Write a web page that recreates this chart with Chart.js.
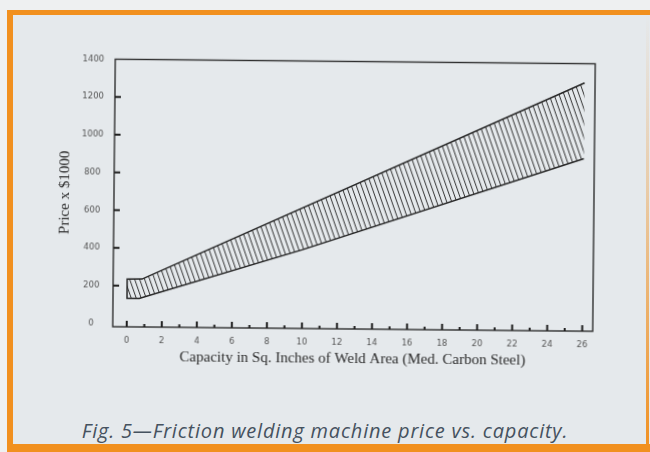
<!DOCTYPE html>
<html>
<head>
<meta charset="utf-8">
<script src="https://cdn.jsdelivr.net/npm/chart.js@4"></script>
<style>
  html,body{margin:0;padding:0;}
  body{width:650px;height:452px;position:relative;overflow:hidden;background:#eef0f1;}
  #page{position:absolute;left:7px;top:10px;right:0;bottom:0;background:#e5e9ec;}
  #ftop{position:absolute;left:7px;top:10px;width:643px;height:5px;background:#f1901f;}
  #fleft{position:absolute;left:7px;top:10px;width:6px;height:442px;background:#f1901f;}
  #fbot{position:absolute;left:7px;top:444px;width:643px;height:8px;background:#f1901f;}
  #fright{position:absolute;left:646px;top:15px;width:3px;height:437px;background:linear-gradient(#f1901f00,#f1901f55 40%,#f1901f);}
  #wrap{position:absolute;left:0;top:0;width:650px;height:380px;transform-origin:354px 195px;transform:rotate(0.55deg);}
  #cap{position:absolute;left:0;width:650px;top:421px;line-height:20px;text-align:center;font-family:"Open Sans",sans-serif;font-style:italic;font-size:20px;letter-spacing:0.8px;color:#45525f;white-space:nowrap;}
</style>
</head>
<body>
<div id="page"></div>
<div id="ftop"></div><div id="fleft"></div><div id="fbot"></div><div id="fright"></div>
<div id="wrap"><canvas id="c" width="650" height="380"></canvas></div>
<div id="cap">Fig. 5—Friction welding machine price vs. capacity.</div>
<script>
// ---- data ----
const lowerCapacity = [0, 0.7, 10, 26];
const lowerPrice    = [133, 133, 400, 896];
const upperCapacity = [0, 0.85, 26];
const upperPrice    = [235, 236, 1298];
const xTickValues = [0,1,2,3,4,5,6,7,8,9,10,11,12,13,14,15,16,17,18,19,20,21,22,23,24,25,26];
const yTickValues = [0,200,400,600,800,1000,1200,1400];
const xTitle = 'Capacity in Sq. Inches of Weld Area (Med. Carbon Steel)';
const yTitle = 'Price x $1000';

// closed band outline: lower edge (right to left), left edge, upper edge (left to right)
const band = [];
for (let i = lowerCapacity.length - 1; i >= 0; i--) band.push({x: lowerCapacity[i], y: lowerPrice[i]});
for (let i = 0; i < upperCapacity.length; i++) band.push({x: upperCapacity[i], y: upperPrice[i]});

function makeHatch(){
  const c = document.createElement('canvas'); c.width = 10; c.height = 14;
  const g = c.getContext('2d');
  g.strokeStyle = '#333333'; g.lineWidth = 1;
  for (let o = -10; o <= 10; o += 5){ g.beginPath(); g.moveTo(o,0); g.lineTo(o+5,14); g.stroke(); }
  return g.createPattern(c, 'repeat');
}

const frameTicks = {
  id: 'frameTicks',
  afterDraw(chart){
    const {ctx, chartArea: a, scales: {x, y}} = chart;
    ctx.save();
    ctx.strokeStyle = '#303030'; ctx.lineWidth = 1.4;
    ctx.strokeRect(a.left, a.top, a.right - a.left, a.bottom - a.top);
    ctx.strokeStyle = '#1e1e1e'; ctx.lineWidth = 2;
    x.ticks.forEach(t => {
      const px = x.getPixelForValue(t.value);
      const len = (t.value % 2 === 0) ? 6 : 3;
      ctx.beginPath(); ctx.moveTo(px, a.bottom); ctx.lineTo(px, a.bottom - len); ctx.stroke();
    });
    y.ticks.forEach(t => {
      if (t.value <= 0 || t.value >= 1400) return;
      const py = y.getPixelForValue(t.value);
      ctx.beginPath(); ctx.moveTo(a.left, py); ctx.lineTo(a.left + 6, py); ctx.stroke();
    });
    ctx.restore();
  }
};

Chart.defaults.font.family = '"DejaVu Sans", sans-serif';

new Chart(document.getElementById('c'), {
  type: 'line',
  data: {
    datasets: [{
      data: band,
      fill: 'shape',
      backgroundColor: makeHatch(),
      borderColor: '#262626',
      borderWidth: 1.5,
      pointRadius: 0,
      tension: 0
    }]
  },
  options: {
    responsive: false,
    animation: false,
    events: [],
    layout: {padding: {left: 56, top: 61.5, right: 56, bottom: 11}},
    plugins: {legend: {display: false}, tooltip: {enabled: false}},
    scales: {
      x: {
        type: 'linear', min: -0.8, max: 26.6,
        afterBuildTicks: s => { s.ticks = xTickValues.map(v => ({value: v})); },
        afterFit: s => { s.height = 40; },
        grid: {display: false, drawTicks: false, tickLength: 0},
        border: {display: false},
        ticks: {
          padding: 9, color: '#555', font: {size: 8.5}, maxRotation: 0, minRotation: 0, autoSkip: false,
          callback: v => (v % 2 === 0 ? String(v) : '')
        },
        title: {display: true, text: xTitle, color: '#2e2e2e', padding: {top: 0, bottom: 1},
                font: {family: '"Liberation Serif", serif', size: 15}}
      },
      y: {
        type: 'linear', min: -18, max: 1400,
        afterBuildTicks: s => { s.ticks = yTickValues.map(v => ({value: v})); },
        afterFit: s => { s.width = 58; },
        grid: {display: false, drawTicks: false, tickLength: 0},
        border: {display: false},
        ticks: {padding: 11, crossAlign: 'center', color: '#555', font: {size: 8.5}, autoSkip: false,
                callback: v => String(v)},
        title: {display: true, text: yTitle, color: '#2e2e2e', padding: {top: 0, bottom: 0},
                font: {family: '"Liberation Serif", serif', size: 15}}
      }
    }
  },
  plugins: [frameTicks]
});
</script>
</body>
</html>
